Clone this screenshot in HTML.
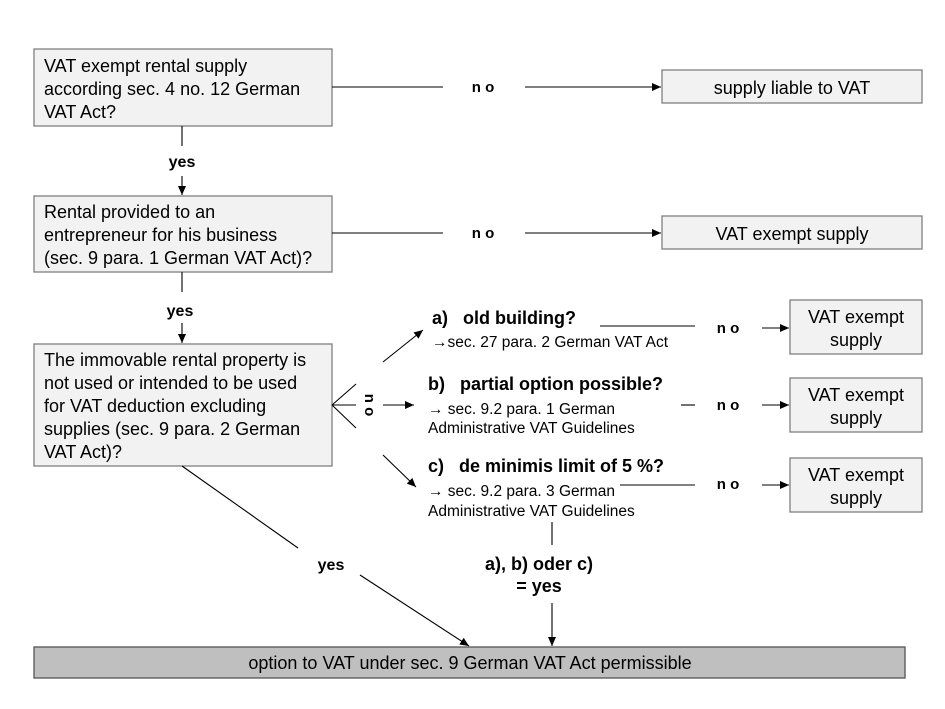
<!DOCTYPE html>
<html><head><meta charset="utf-8"><style>
body{margin:0;background:#fff}
svg{display:block}
text{font-family:"Liberation Sans",Arial,sans-serif;fill:#000}
.b{font-weight:bold}
</style></head><body>
<svg width="945" height="709" viewBox="0 0 945 709">
<defs><marker id="a" markerWidth="10" markerHeight="10" refX="9" refY="5" orient="auto" markerUnits="userSpaceOnUse"><path d="M0,1 L9,5 L0,9 z" fill="#000"/></marker></defs>
<g stroke="#7f7f7f" stroke-width="1.3" fill="#f2f2f2">
<rect x="34" y="49" width="298" height="77"/>
<rect x="662" y="70" width="260" height="33"/>
<rect x="34" y="196" width="298" height="76"/>
<rect x="662" y="216" width="260" height="33"/>
<rect x="34" y="344" width="298" height="122"/>
<rect x="790" y="300" width="132" height="54"/>
<rect x="790" y="378" width="132" height="54"/>
<rect x="790" y="458" width="132" height="54"/>
<rect x="34" y="647" width="871" height="31" fill="#bfbfbf" stroke="#555"/>
</g>
<g stroke="#000" stroke-width="1.1" fill="none">
<line x1="332" y1="87" x2="443" y2="87"/><line x1="525" y1="87" x2="661" y2="87" marker-end="url(#a)"/>
<line x1="332" y1="233" x2="443" y2="233"/><line x1="525" y1="233" x2="661" y2="233" marker-end="url(#a)"/>
<line x1="182" y1="126" x2="182" y2="146"/><line x1="182" y1="176" x2="182" y2="195" marker-end="url(#a)"/>
<line x1="182" y1="272" x2="182" y2="292"/><line x1="182" y1="323" x2="182" y2="343" marker-end="url(#a)"/>
<line x1="332" y1="405" x2="356" y2="384"/><line x1="332" y1="405" x2="356" y2="428"/><line x1="332" y1="405" x2="356" y2="405"/>
<line x1="383" y1="405" x2="414" y2="405" marker-end="url(#a)"/>
<line x1="383" y1="362" x2="423" y2="330" marker-end="url(#a)"/>
<line x1="383" y1="455" x2="416" y2="487" marker-end="url(#a)"/>
<line x1="600" y1="326" x2="695" y2="326"/><line x1="762" y1="328" x2="789" y2="328" marker-end="url(#a)"/>
<line x1="681" y1="405" x2="695" y2="405"/><line x1="762" y1="405" x2="789" y2="405" marker-end="url(#a)"/>
<line x1="620" y1="485" x2="695" y2="485"/><line x1="762" y1="485" x2="789" y2="485" marker-end="url(#a)"/>
<line x1="552" y1="522" x2="552" y2="545"/><line x1="552" y1="603" x2="552" y2="646" marker-end="url(#a)"/>
<line x1="182" y1="466" x2="298" y2="548"/><line x1="360" y1="575" x2="469" y2="646" marker-end="url(#a)"/>
</g>
<g font-size="18">
<text x="44" y="72">VAT exempt rental supply</text>
<text x="44" y="95">according sec. 4 no. 12 German</text>
<text x="44" y="118">VAT Act?</text>
<text x="792" y="94" text-anchor="middle">supply liable to VAT</text>
<text x="44" y="218">Rental provided to an</text>
<text x="44" y="241">entrepreneur for his business</text>
<text x="44" y="264">(sec. 9 para. 1 German VAT Act)?</text>
<text x="792" y="240" text-anchor="middle">VAT exempt supply</text>
<text x="44" y="366">The immovable rental property is</text>
<text x="44" y="389">not used or intended to be used</text>
<text x="44" y="412">for VAT deduction excluding</text>
<text x="44" y="435">supplies (sec. 9 para. 2 German</text>
<text x="44" y="458">VAT Act)?</text>
<text x="856" y="323" text-anchor="middle">VAT exempt</text><text x="856" y="346" text-anchor="middle">supply</text>
<text x="856" y="401" text-anchor="middle">VAT exempt</text><text x="856" y="424" text-anchor="middle">supply</text>
<text x="856" y="481" text-anchor="middle">VAT exempt</text><text x="856" y="504" text-anchor="middle">supply</text>
<text x="470" y="669" text-anchor="middle">option to VAT under sec. 9 German VAT Act permissible</text>
<text class="b" x="432" y="324">a)&#160;&#160;&#160;old building?</text>
<text class="b" x="428" y="390">b)&#160;&#160;&#160;partial option possible?</text>
<text class="b" x="428" y="472">c)&#160;&#160;&#160;de minimis limit of 5 %?</text>
<text class="b" x="539" y="570" text-anchor="middle">a), b) oder c)</text>
<text class="b" x="539" y="592" text-anchor="middle">= yes</text>
</g>
<g font-size="15.5">
<text x="432" y="347"><tspan font-weight="bold">→</tspan>sec. 27 para. 2 German VAT Act</text>
<text x="428" y="414"><tspan font-weight="bold">→</tspan> sec. 9.2 para. 1 German</text>
<text x="428" y="433">Administrative VAT Guidelines</text>
<text x="428" y="496"><tspan font-weight="bold">→</tspan> sec. 9.2 para. 3 German</text>
<text x="428" y="516">Administrative VAT Guidelines</text>
</g>
<g font-size="15">
<text class="b" x="483" y="92" text-anchor="middle">n o</text>
<text class="b" x="483" y="238" text-anchor="middle">n o</text>
<text class="b" x="728" y="333" text-anchor="middle">n o</text>
<text class="b" x="728" y="410" text-anchor="middle">n o</text>
<text class="b" x="728" y="489" text-anchor="middle">n o</text>
<text class="b" x="182" y="167" text-anchor="middle" font-size="16">yes</text>
<text class="b" x="180" y="316" text-anchor="middle" font-size="16">yes</text>
<text class="b" x="331" y="570" text-anchor="middle" font-size="16">yes</text>
<text class="b" transform="translate(365,405) rotate(90)" text-anchor="middle">n o</text>
</g>
</svg>
</body></html>
